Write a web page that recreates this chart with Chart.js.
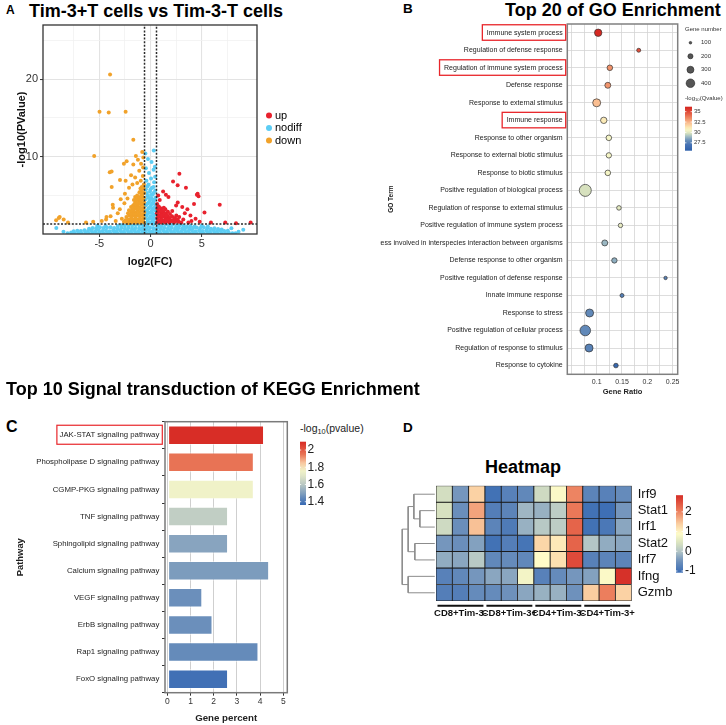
<!DOCTYPE html>
<html>
<head>
<meta charset="utf-8">
<script src="https://cdn.jsdelivr.net/npm/chart.js@4.4.1/dist/chart.umd.min.js"></script>
<style>
  body { margin: 0; background: #fff; }
  #page { position: relative; width: 726px; height: 725px; overflow: hidden; font-family: 'Liberation Sans', Arial, sans-serif; }
  canvas { position: absolute; }
  .txt { position: absolute; white-space: nowrap; line-height: 1; color: #000; }
  .b { font-weight: bold; }
  .txt sub { font-size: 0.7em; line-height: 0; vertical-align: -0.25em; }
</style>
</head>
<body>
<div id="page">
  <div class="txt b" style="left:6px;top:3.8px;font-size:12px">A</div>
  <div class="txt b" style="left:29px;top:1.5px;font-size:18px">Tim-3+T cells vs Tim-3-T cells</div>
  <canvas id="volcano" width="330" height="256" style="left:0;top:16px"></canvas>

  <div class="txt b" style="left:403px;top:1.9px;font-size:13.5px">B</div>
  <div class="txt b" style="left:505px;top:1.1px;font-size:18px">Top 20 of GO Enrichment</div>
  <canvas id="go" width="306" height="387" style="left:380px;top:15px"></canvas>
  <div class="txt" style="left:685px;top:25.9px;font-size:6px;color:#333">Gene number</div>
  <canvas id="goSize" width="46" height="72" style="left:680px;top:27px"></canvas>
  <div class="txt" style="left:685px;top:94.9px;font-size:6px;color:#333">-log<sub>10</sub>(Qvalue)</div>
  <canvas id="goBar" width="42" height="56" style="left:684px;top:101px"></canvas>

  <div class="txt b" style="left:6px;top:379.8px;font-size:18px">Top 10 Signal transduction of KEGG Enrichment</div>
  <div class="txt b" style="left:6px;top:419.2px;font-size:16px">C</div>
  <canvas id="kegg" width="292" height="315" style="left:0;top:410px"></canvas>
  <div class="txt" style="left:300px;top:422.6px;font-size:10.5px;color:#222">-log<sub>10</sub>(pvalue)</div>
  <canvas id="keggBar" width="40" height="81" style="left:299px;top:433px"></canvas>

  <div class="txt b" style="left:403px;top:421.3px;font-size:13.5px">D</div>
  <div class="txt b" style="left:485px;top:457.5px;font-size:18px">Heatmap</div>
  <canvas id="dendro" width="35" height="115" style="left:401px;top:486px"></canvas>
  <canvas id="heat" width="254" height="155" style="left:426px;top:470px"></canvas>
  <canvas id="heatBar" width="51" height="96" style="left:675px;top:486px"></canvas>
</div>

<script>
// ---------- A: volcano (log2 fold change, -log10 p) ----------
const volcanoUp = [
  [2.82,7.8],[2.2,6.8],[2.65,6.3],[3.46,6.0],[4.53,5.1],[4.69,4.9],[4.6,5.2],[1.23,5.5],[1.5,5.1],[1.75,4.8],[0.75,5.0],[0.9,4.4],
  [2.66,4.1],[2.5,3.7],[3.1,3.5],[3.6,3.2],[4.25,3.9],[6.76,3.8],[5.27,2.8],[3.9,2.4],[4.4,2.0],[3.35,2.7],[4.0,1.7],[4.8,1.6],
  [5.9,1.5],[7.3,1.5],[8.35,1.4],[9.78,1.5],[3.7,1.5],
  [0.64,1.5],[0.66,2.1],[0.63,2.7],[0.67,3.3],[0.65,3.9],[0.85,1.7],[0.83,2.3],[0.87,2.9],[0.84,3.5],
  [1.05,1.5],[1.03,2.1],[1.07,2.7],[1.04,3.3],[1.25,1.7],[1.27,2.3],[1.24,2.9],[1.3,3.4],
  [1.45,1.5],[1.47,2.1],[1.5,2.7],[1.45,3.2],[1.65,1.7],[1.68,2.3],[1.7,2.9],
  [1.85,1.5],[1.87,2.1],[1.9,2.6],[2.05,1.7],[2.1,2.3],[2.12,3.0],
  [2.3,1.5],[2.32,2.0],[2.5,1.7],[2.52,2.4],[2.75,1.6],[2.8,2.2],[3.0,1.5],[3.2,1.9],
  [0.75,1.8],[0.75,2.4],[0.76,3.0],[0.75,3.6],[0.95,1.8],[0.95,2.4],[0.96,3.0],[1.15,1.8],[1.15,2.4],[1.16,3.0],
  [1.35,1.8],[1.36,2.5],[1.55,1.8],[1.56,2.4],[1.75,1.9],[1.95,1.8],[2.2,1.8],[2.4,2.1],[2.65,1.9]
];
const volcanoDown = [
  [-3.95,20.6],[-4.98,15.8],[-4.08,15.7],[-2.43,15.8],[-1.68,12.2],[-5.5,10.1],[-1.43,10.1],[-0.81,10.6],[-0.7,9.9],
  [-2.33,9.4],[-2.6,9.1],[-1.68,9.0],[-1.23,9.6],[-0.92,9.1],[-0.72,8.6],[-3.98,8.0],[-3.8,8.1],[-1.1,8.2],
  [-2.98,7.0],[-2.43,6.9],[-1.9,7.6],[-1.5,7.3],[-0.75,7.5],[-0.95,6.9],[-1.3,6.6],[-3.79,6.1],[-1.76,6.4],[-2.1,6.0],
  [-2.91,4.5],[-2.5,5.2],[-3.69,3.8],[-3.66,3.4],[-3.2,2.7],[-3.9,2.3],[-3.4,1.7],[-2.8,2.0],[-3.0,3.2],[-2.55,4.0],[-2.25,4.6],
  [-4.34,1.9],[-4.76,1.7],[-4.3,2.2],[-5.6,1.6],[-6.3,1.5],
  [-8.87,2.2],[-8.48,1.9],[-8.06,1.5],[-9.22,1.78],[-8.96,2.1],
  [-0.64,1.5],[-0.66,2.1],[-0.63,2.8],[-0.67,3.4],[-0.64,4.1],[-0.66,4.7],[-0.63,5.3],[-0.68,5.9],[-0.65,6.4],
  [-0.85,1.7],[-0.83,2.4],[-0.87,3.1],[-0.84,3.8],[-0.86,4.4],[-0.83,5.0],[-0.88,5.6],[-0.85,6.1],
  [-1.05,1.5],[-1.03,2.2],[-1.07,2.8],[-1.04,3.5],[-1.06,4.2],[-1.03,4.8],[-1.08,5.4],
  [-1.25,1.7],[-1.27,2.4],[-1.24,3.1],[-1.28,3.7],[-1.25,4.4],[-1.3,5.0],
  [-1.45,1.5],[-1.47,2.2],[-1.44,2.8],[-1.48,3.5],[-1.46,4.1],[-1.5,4.8],
  [-1.65,1.7],[-1.67,2.4],[-1.64,3.0],[-1.7,3.7],[-1.62,4.4],
  [-1.85,1.5],[-1.88,2.2],[-1.84,2.9],[-1.9,3.5],[-2.05,1.7],[-2.08,2.4],[-2.1,3.1],
  [-2.3,1.5],[-2.35,2.2],[-2.6,1.6],[-2.15,1.45],
  [-0.75,1.8],[-0.75,2.5],[-0.75,3.2],[-0.75,3.9],[-0.75,4.6],[-0.75,5.3],[-0.76,6.0],
  [-0.95,1.9],[-0.95,2.6],[-0.95,3.3],[-0.95,4.0],[-0.96,4.7],[-0.97,5.3],[-0.98,5.9],
  [-1.15,1.9],[-1.15,2.6],[-1.16,3.3],[-1.15,4.0],[-1.17,4.6],
  [-1.35,1.9],[-1.36,2.6],[-1.35,3.3],[-1.37,4.0],[-1.38,4.5],
  [-1.55,1.9],[-1.56,2.6],[-1.55,3.3],[-1.57,3.9],[-1.75,1.9],[-1.76,2.6],[-1.78,3.2],
  [-1.95,1.9],[-1.97,2.6],[-2.2,1.9],[-2.2,2.7],[-2.45,1.8]
];
const volcanoNodiff = [
  // column between the fold-change cut-offs
  [-0.45,1.45],[0.0,1.5],[0.42,1.45],[-0.25,1.85],[0.2,1.9],[0.5,2.0],[-0.5,2.1],[0.0,2.3],[-0.35,2.55],[0.35,2.5],
  [0.05,2.85],[-0.5,2.95],[0.48,3.05],[-0.2,3.3],[0.25,3.35],[-0.45,3.7],[0.05,3.75],[0.45,3.8],[-0.15,4.15],[0.3,4.2],
  [-0.5,4.5],[0.1,4.6],[0.5,4.7],[-0.3,4.95],[0.2,5.1],[-0.05,5.5],[0.45,5.6],[-0.45,5.8],[0.15,6.0],[-0.2,6.4],
  [0.35,6.7],[-0.4,6.9],[0.05,7.2],[0.45,7.4],[-0.15,7.9],[0.3,8.3],[-0.45,8.5],[0.42,8.7],[0.1,9.3],[-0.25,9.7],
  [0.32,10.8],[-0.5,10.4],
  [-0.3,1.6],[0.25,1.65],[-0.1,2.05],[0.3,2.2],[-0.4,2.35],[-0.15,2.75],[0.2,2.7],[-0.35,3.05],[0.15,3.1],[0.4,3.4],
  [-0.05,3.5],[-0.3,3.95],[0.2,3.95],[-0.05,4.35],[0.35,4.45],[-0.2,4.7],[0.05,5.05],[-0.35,5.3],[0.3,5.3],[0.0,5.8],
  [0.3,6.1],[-0.3,6.2],
  // band under the p cut-off
  [-3.2,1.05],[-2.85,1.15],[-2.5,1.1],[-2.15,1.2],[-1.8,1.1],[-1.45,1.2],[-1.1,1.15],[-0.8,1.25],[-0.3,1.1],[0.25,1.2],
  [0.8,1.15],[1.1,1.05],[1.45,1.2],[1.8,1.1],[2.15,1.2],[2.5,1.05],[2.85,1.15],[3.2,1.1],[3.55,1.0],[3.9,1.05],[4.3,0.98],
  [-6.0,0.7],[-5.65,0.8],[-5.3,0.75],[-4.95,0.9],[-4.6,0.8],[-4.25,0.85],[-3.9,0.9],[-3.55,0.8],[-3.2,0.7],[-2.85,0.78],
  [-2.5,0.72],[-2.15,0.82],[-1.8,0.74],[-1.45,0.8],[-1.1,0.72],[-0.75,0.84],[-0.4,0.76],[-0.05,0.85],[0.3,0.75],[0.65,0.82],
  [1.0,0.72],[1.35,0.8],[1.7,0.74],[2.05,0.82],[2.4,0.72],[2.75,0.8],[3.1,0.74],[3.45,0.82],[3.8,0.72],[4.15,0.8],
  [4.5,0.86],[4.85,0.78],[5.2,0.88],[5.55,0.76],[5.9,0.7],[6.25,0.76],[6.6,0.68],[6.95,0.6],
  [-7.5,0.38],[-7.15,0.45],[-6.8,0.4],[-6.45,0.5],[-6.1,0.42],[-5.75,0.46],[-5.4,0.38],[-5.05,0.5],[-4.7,0.42],[-4.35,0.46],
  [-4.0,0.38],[-3.65,0.5],[-3.3,0.42],[-2.95,0.46],[-2.6,0.38],[-2.25,0.5],[-1.9,0.42],[-1.55,0.46],[-1.2,0.38],[-0.85,0.5],
  [-0.5,0.42],[-0.15,0.46],[0.2,0.38],[0.55,0.5],[0.9,0.42],[1.25,0.46],[1.6,0.38],[1.95,0.5],[2.3,0.42],[2.65,0.46],
  [3.0,0.38],[3.35,0.5],[3.7,0.42],[4.05,0.46],[4.4,0.38],[4.75,0.5],[5.1,0.42],[5.45,0.46],[5.8,0.38],[6.15,0.5],
  [6.5,0.42],[6.85,0.46],[7.2,0.4],[7.55,0.44],
  [-8.1,0.12],[-7.75,0.2],[-7.4,0.08],[-7.05,0.16],[-6.7,0.1],[-6.35,0.18],[-6.0,0.08],[-5.65,0.15],[-5.3,0.1],[-4.95,0.18],
  [-4.6,0.08],[-4.25,0.15],[-3.9,0.1],[-3.55,0.18],[-3.2,0.08],[-2.85,0.15],[-2.5,0.1],[-2.15,0.18],[-1.8,0.08],[-1.45,0.15],
  [-1.1,0.1],[-0.75,0.18],[-0.4,0.08],[-0.05,0.15],[0.3,0.1],[0.65,0.18],[1.0,0.08],[1.35,0.15],[1.7,0.1],[2.05,0.18],
  [2.4,0.08],[2.75,0.15],[3.1,0.1],[3.45,0.18],[3.8,0.08],[4.15,0.15],[4.5,0.1],[4.85,0.18],[5.2,0.08],[5.55,0.15],
  [5.9,0.1],[6.25,0.18],[6.6,0.08],[6.95,0.15],[7.3,0.1],[7.65,0.18],[8.0,0.12],
  [-9.2,0.8],[-8.5,0.3],[-5.2,1.1],[-4.4,1.05],[5.0,1.1],[5.6,1.0],[8.3,0.12],[9.06,0.56],[7.9,0.75],[8.6,0.3]
];
const fcCut = 0.585;
const pCut = 1.3;
const fcTicks = [-7.5, -5, -2.5, 0, 2.5, 5, 7.5];
const fcLabels = ['', '-5', '', '0', '', '5', ''];
const pTicks = [5, 10, 15, 20, 25];
const pLabels = ['', '10', '', '20', ''];

// ---------- B: GO enrichment ----------
const goTerms = [
  'Immune system process', 'Regulation of defense response', 'Regulation of immune system process',
  'Defense response', 'Response to external stimulus', 'Immune response', 'Response to other organism',
  'Response to external biotic stimulus', 'Response to biotic stimulus', 'Positive regulation of biological process',
  'Regulation of response to external stimulus', 'Positive regulation of immune system process',
  'Biological process involved in interspecies interaction between organisms', 'Defense response to other organism',
  'Positive regulation of defense response', 'Innate immune response', 'Response to stress',
  'Positive regulation of cellular process', 'Regulation of response to stimulus', 'Response to cytokine'
];
const goRatio = [0.103, 0.183, 0.126, 0.122, 0.100, 0.114, 0.124, 0.124, 0.122, 0.0775,
                 0.144, 0.147, 0.116, 0.135, 0.236, 0.150, 0.086, 0.0775, 0.085, 0.138];
const goCount = [324, 152, 225, 245, 361, 267, 225, 215, 225, 660, 178, 170, 245, 215, 128, 152, 361, 544, 361, 178];
const goQvalue = [36.0, 34.8, 33.3, 33.2, 32.3, 31.1, 30.5, 30.5, 30.5, 29.8,
                  30.1, 30.2, 28.9, 28.7, 27.6, 27.5, 27.9, 27.9, 27.6, 26.2];
const goBoxed = ['Immune system process', 'Regulation of immune system process', 'Immune response'];
const ratioTicks = [0.05, 0.075, 0.1, 0.125, 0.15, 0.175, 0.2, 0.225, 0.25];
const ratioLabels = ['', '', '0.1', '', '0.15', '', '0.2', '', '0.25'];
const sizeLegend = [100, 200, 300, 400];
const qTicks = [27.5, 30, 32.5, 35];

// ---------- C: KEGG signal transduction ----------
const keggPathways = [
  'JAK-STAT signaling pathway', 'Phospholipase D signaling pathway', 'CGMP-PKG signaling pathway',
  'TNF signaling pathway', 'Sphingolipid signaling pathway', 'Calcium signaling pathway',
  'VEGF signaling pathway', 'ErbB signaling pathway', 'Rap1 signaling pathway', 'FoxO signaling pathway'
];
const keggPercent = [4.18, 3.74, 3.74, 2.63, 2.63, 4.40, 1.52, 1.96, 3.94, 2.63];
const keggLogP = [2.09, 1.95, 1.76, 1.62, 1.51, 1.49, 1.46, 1.46, 1.45, 1.38];
const keggBoxed = ['JAK-STAT signaling pathway'];
const percentTicks = [0, 1, 2, 3, 4, 5];
const pvTicks = [1.4, 1.6, 1.8, 2.0];
const pvLabels = ['1.4', '1.6', '1.8', '2'];

// ---------- D: heatmap ----------
const heatGenes = ['Irf9', 'Stat1', 'Irf1', 'Stat2', 'Irf7', 'Ifng', 'Gzmb'];
const heatGroups = ['CD8+Tim-3-', 'CD8+Tim-3+', 'CD4+Tim-3-', 'CD4+Tim-3+'];
const heatSamples = ['CD8-_1', 'CD8-_2', 'CD8-_3', 'CD8+_1', 'CD8+_2', 'CD8+_3',
                     'CD4-_1', 'CD4-_2', 'CD4-_3', 'CD4+_1', 'CD4+_2', 'CD4+_3'];
const heatValues = [
  [0.35, -0.45, 1.35, -1.0, -0.75, -0.65, 0.3, 0.85, 2.0, -0.7, -0.75, -0.6],
  [0.4, -0.55, 1.75, -0.8, -0.7, -0.15, -0.2, 0.1, 2.1, -1.0, -1.05, -0.45],
  [0.3, -0.55, 1.5, -0.7, -0.85, -0.2, 0.05, 0.1, 2.3, -1.0, -0.9, -0.3],
  [-0.45, -0.55, -0.35, -1.0, -0.8, -0.95, 1.3, 1.1, 2.3, 0.0, -0.25, -0.3],
  [-0.25, -0.3, 0.05, -0.65, -0.6, -0.65, 0.9, 1.2, 2.55, -0.75, -0.7, -0.7],
  [-0.75, -0.65, -0.45, -0.3, -0.3, 0.75, -0.75, -0.6, -0.45, -0.35, 0.85, 2.8],
  [-0.8, -0.8, -0.6, -0.6, -0.5, -0.3, -0.2, -0.2, -0.5, 1.4, 2.05, 1.35]
];
// row clustering: [child, child, height]; a number refers to an earlier merge
const heatTree = [['Stat1', 'Irf1', 1.83], ['Irf9', 0, 2.57], ['Stat2', 'Irf7', 2.45],
                  [1, 2, 3.27], ['Ifng', 'Gzmb', 3.27], [3, 4, 4.0]];
const heatTicks = [-1, 0, 1, 2];

// ---------- palettes ----------
const goStops = [[25.6, [45, 95, 170]], [27.0, [70, 115, 180]], [28.0, [100, 140, 185]], [29.0, [160, 188, 195]],
                 [29.8, [215, 225, 190]], [30.5, [245, 245, 198]], [31.2, [252, 232, 180]], [32.3, [250, 190, 145]],
                 [33.3, [240, 145, 105]], [34.8, [225, 80, 60]], [36.2, [212, 35, 30]]];
const keggStops = [[1.36, [55, 105, 180]], [1.44, [95, 135, 185]], [1.5, [130, 160, 190]], [1.6, [185, 200, 195]],
                   [1.7, [225, 230, 200]], [1.76, [240, 242, 200]], [1.85, [248, 200, 160]], [1.95, [232, 115, 85]],
                   [2.1, [215, 40, 35]]];
const heatStops = [[-1.09, [58, 108, 180]], [-0.5, [110, 145, 188]], [0, [180, 198, 198]], [0.4, [215, 225, 192]],
                   [0.9, [255, 252, 200]], [1.4, [250, 205, 160]], [2.1, [235, 120, 88]], [2.84, [213, 45, 38]]];

const FONT = "'Liberation Sans', Arial, sans-serif";
Chart.defaults.font.family = FONT;
Chart.defaults.color = '#333';

function rampColor(stops, v) {
  if (v <= stops[0][0]) return 'rgb(' + stops[0][1].join(',') + ')';
  for (let i = 1; i < stops.length; i++) {
    if (v <= stops[i][0]) {
      const [v0, c0] = stops[i - 1], [v1, c1] = stops[i];
      const t = (v - v0) / (v1 - v0);
      return 'rgb(' + c0.map((c, k) => Math.round(c + (c1[k] - c) * t)).join(',') + ')';
    }
  }
  return 'rgb(' + stops[stops.length - 1][1].join(',') + ')';
}

const fixedTicks = list => scale => { scale.ticks = list.map(v => ({ value: v })); };
const geneRadius = n => 0.3 * Math.sqrt(n) - 1.7;
const noGrid = { display: false, drawTicks: false };

const framePlugin = {
  id: 'frame',
  afterDatasetsDraw(chart, args, opts) {
    const a = chart.chartArea, ctx = chart.ctx;
    ctx.save();
    ctx.strokeStyle = opts.color;
    ctx.lineWidth = opts.width;
    ctx.strokeRect(a.left, a.top, a.right - a.left, a.bottom - a.top);
    ctx.restore();
  }
};

// red boxes round some y tick labels
const labelBoxes = {
  id: 'labelBoxes',
  afterDraw(chart, args, o) {
    const ctx = chart.ctx, ys = chart.scales.y, left = chart.chartArea.left;
    ctx.save();
    ctx.font = o.font;
    ctx.strokeStyle = '#e8262b';
    ctx.lineWidth = o.width;
    o.labels.forEach(label => {
      const py = ys.getPixelForValue(o.all.indexOf(label));
      const x0 = left - o.textGap - ctx.measureText(label).width - o.padLeft;
      ctx.strokeRect(x0, py - o.up, left - o.gapRight - x0, o.up + o.down);
    });
    ctx.restore();
  }
};

const volcanoLegend = {
  id: 'volcanoLegend',
  afterDraw(chart) {
    const ctx = chart.ctx, a = chart.chartArea;
    const groups = chart.data.datasets.filter(d => d.legendIndex !== undefined)
      .sort((p, q) => p.legendIndex - q.legendIndex);
    ctx.save();
    ctx.font = '11px ' + FONT;
    ctx.textBaseline = 'middle';
    groups.forEach((d, i) => {
      const y = (a.top + a.bottom) / 2 - 14 + i * 12.5;
      ctx.fillStyle = d.backgroundColor;
      ctx.beginPath();
      ctx.arc(a.right + 12, y, 3, 0, Math.PI * 2);
      ctx.fill();
      ctx.fillStyle = '#000';
      ctx.fillText(d.label, a.right + 18, y);
    });
    ctx.restore();
  }
};

function ggGrid(labels) {
  return {
    color: c => labels[c.index] ? '#e3e3e3' : '#f1f1f1',
    lineWidth: c => labels[c.index] ? 1.1 : 0.8,
    tickLength: 3,
    tickWidth: 1,
    tickColor: c => labels[c.index] ? '#333' : 'rgba(0,0,0,0)'
  };
}

const toXY = p => ({ x: p[0], y: p[1] });
const fcMin = -10.5, fcMax = 10.4, pMin = 0.02, pMax = 27;
const cutLine = pts => ({
  data: pts, showLine: true, borderColor: '#2a2a2a', borderWidth: 1.5, borderDash: [2, 1.6],
  pointRadius: 0, order: 0
});

new Chart(document.getElementById('volcano'), {
  type: 'scatter',
  data: {
    datasets: [
      { label: 'up', legendIndex: 0, data: volcanoUp.map(toXY), backgroundColor: '#e8222e', pointRadius: 2, borderWidth: 0, order: 1 },
      { label: 'nodiff', legendIndex: 1, data: volcanoNodiff.map(toXY), backgroundColor: '#5ccdf4', pointRadius: 2, borderWidth: 0, order: 3 },
      { label: 'down', legendIndex: 2, data: volcanoDown.map(toXY), backgroundColor: '#f1a22a', pointRadius: 2, borderWidth: 0, order: 2 },
      cutLine([{ x: -fcCut, y: pMin }, { x: -fcCut, y: pMax }]),
      cutLine([{ x: fcCut, y: pMin }, { x: fcCut, y: pMax }]),
      cutLine([{ x: fcMin, y: pCut }, { x: fcMax, y: pCut }])
    ]
  },
  options: {
    responsive: false, animation: false, events: [],
    layout: { padding: { top: 9, right: 73, bottom: 0, left: 0 } },
    plugins: { legend: { display: false }, tooltip: { enabled: false }, frame: { color: '#333', width: 1.3 } },
    scales: {
      x: {
        type: 'linear', min: fcMin, max: fcMax,
        afterBuildTicks: fixedTicks(fcTicks), afterFit: s => { s.height = 38; },
        ticks: { callback: (v, i) => fcLabels[i], color: '#333', font: { size: 11 }, padding: 0, maxRotation: 0, autoSkip: false },
        grid: ggGrid(fcLabels), border: { display: false },
        title: { display: true, text: 'log2(FC)', color: '#111', font: { size: 11, weight: 'bold' }, padding: { top: 0, bottom: 3.9 } }
      },
      y: {
        min: pMin, max: pMax,
        afterBuildTicks: fixedTicks(pTicks), afterFit: s => { s.width = 43; },
        ticks: { callback: (v, i) => pLabels[i], color: '#333', font: { size: 11 }, padding: 2, autoSkip: false },
        grid: ggGrid(pLabels), border: { display: false },
        title: { display: true, text: '-log10(PValue)', color: '#111', font: { size: 11, weight: 'bold' }, padding: { top: 15.4, bottom: 0 } }
      }
    }
  },
  plugins: [framePlugin, volcanoLegend]
});

// ---------- B ----------
const dotGrid = { color: '#d4d4d4', borderDash: [2, 2], dash: [2, 2], drawTicks: false, lineWidth: 0.8 };
new Chart(document.getElementById('go'), {
  type: 'bubble',
  data: {
    datasets: [{
      data: goTerms.map((t, i) => ({ x: goRatio[i], y: i, r: geneRadius(goCount[i]) })),
      backgroundColor: goQvalue.map(q => rampColor(goStops, q)),
      borderColor: '#333', borderWidth: 0.7
    }]
  },
  options: {
    responsive: false, animation: false, events: [],
    layout: { padding: { top: 9, right: 8.3, bottom: 0, left: 0 } },
    plugins: {
      legend: { display: false }, tooltip: { enabled: false },
      frame: { color: '#808080', width: 1.5 },
      labelBoxes: { labels: goBoxed, all: goTerms, font: '7px ' + FONT, textGap: 4.6, padLeft: 4.5, gapRight: 1.6, up: 8, down: 7.5, width: 1.3 }
    },
    scales: {
      x: {
        min: 0.042, max: 0.26,
        afterBuildTicks: fixedTicks(ratioTicks), afterFit: s => { s.height = 27.7; },
        ticks: { callback: (v, i) => ratioLabels[i], color: '#333', font: { size: 7 }, padding: 3.2, maxRotation: 0, autoSkip: false },
        grid: dotGrid, border: { display: false },
        title: { display: true, text: 'Gene Ratio', color: '#222', font: { size: 7.5, weight: 'bold' }, padding: { top: 0, bottom: 5.8 } }
      },
      y: {
        reverse: true, min: -0.5, max: 19.5,
        afterBuildTicks: fixedTicks(goTerms.map((t, i) => i)), afterFit: s => { s.width = 187.3; },
        ticks: { callback: (v, i) => goTerms[i], color: '#222', font: { size: 7 }, padding: 4.6, autoSkip: false },
        grid: dotGrid, border: { display: false },
        title: { display: true, text: 'GO Term', color: '#222', font: { size: 6.5, weight: 'bold' }, padding: { top: 7, bottom: 0 } }
      }
    }
  },
  plugins: [framePlugin, labelBoxes]
});

// size legend of B
new Chart(document.getElementById('goSize'), {
  type: 'bubble',
  data: {
    datasets: [{
      data: sizeLegend.map((n, i) => ({ x: 0, y: i, r: geneRadius(n) })),
      backgroundColor: '#555', borderColor: '#222', borderWidth: 0.6
    }]
  },
  options: {
    responsive: false, animation: false, events: [],
    layout: { padding: { top: 9, right: 0, bottom: 9, left: 3 } },
    plugins: { legend: { display: false }, tooltip: { enabled: false } },
    scales: {
      x: { display: false, min: -1, max: 1 },
      y: {
        position: 'right', reverse: true, min: -0.5, max: 3.5,
        afterBuildTicks: fixedTicks(sizeLegend.map((n, i) => i)), afterFit: s => { s.width = 30; },
        ticks: { callback: (v, i) => String(sizeLegend[i]), color: '#333', font: { size: 6 }, padding: 5 },
        grid: noGrid, border: { display: false }
      }
    }
  }
});

// colour bars
function colorbar(id, o) {
  const canvas = document.getElementById(id);
  return new Chart(canvas, {
    type: 'scatter',
    data: { datasets: [] },
    options: {
      responsive: false, animation: false, events: [],
      layout: { padding: { top: o.padTop, bottom: o.padBottom, left: o.padLeft, right: 0 } },
      plugins: { legend: { display: false }, tooltip: { enabled: false } },
      scales: {
        x: { display: false, min: 0, max: 1 },
        y: {
          position: 'right', min: o.min, max: o.max,
          afterBuildTicks: fixedTicks(o.ticks),
          afterFit: s => { s.width = canvas.width - o.padLeft - o.barWidth; },
          ticks: { callback: (v, i) => o.labels[i], color: o.color, font: { size: o.fontSize }, padding: o.gap },
          grid: noGrid, border: { display: false }
        }
      }
    },
    plugins: [{
      id: 'gradient',
      beforeDatasetsDraw(chart) {
        const { ctx, chartArea: a, scales: { y } } = chart;
        const g = ctx.createLinearGradient(0, a.bottom, 0, a.top);
        for (let k = 0; k <= 30; k++) {
          g.addColorStop(k / 30, rampColor(o.stops, o.min + (o.max - o.min) * k / 30));
        }
        ctx.save();
        ctx.fillStyle = g;
        ctx.fillRect(a.left, a.top, a.right - a.left, a.bottom - a.top);
        ctx.strokeStyle = '#fff';
        ctx.lineWidth = 0.8;
        const w = (a.right - a.left) / 5;
        o.ticks.forEach(v => {
          const py = y.getPixelForValue(v);
          ctx.beginPath();
          ctx.moveTo(a.left, py); ctx.lineTo(a.left + w, py);
          ctx.moveTo(a.right - w, py); ctx.lineTo(a.right, py);
          ctx.stroke();
        });
        ctx.restore();
      }
    }]
  });
}

colorbar('goBar', { min: 25.6, max: 36.2, ticks: qTicks, labels: qTicks.map(String), stops: goStops,
  padTop: 5.7, padBottom: 6.3, padLeft: 1, barWidth: 7, fontSize: 6, gap: 2, color: '#333' });

// ---------- C ----------
new Chart(document.getElementById('kegg'), {
  type: 'bar',
  data: {
    labels: keggPathways,
    datasets: [{
      data: keggPercent,
      backgroundColor: keggLogP.map(p => rampColor(keggStops, p)),
      borderColor: 'rgba(255,255,255,0.45)', borderWidth: 1.3, borderSkipped: false,
      barPercentage: 0.74, categoryPercentage: 1
    }]
  },
  options: {
    indexAxis: 'y', responsive: false, animation: false, events: [],
    layout: { padding: { top: 11.7, right: 4.7, bottom: 0, left: 0 } },
    plugins: {
      legend: { display: false }, tooltip: { enabled: false },
      frame: { color: '#7a7a7a', width: 1.5 },
      labelBoxes: { labels: keggBoxed, all: keggPathways, font: '7.8px ' + FONT, textGap: 5.7, padLeft: 2.6, gapRight: 2.7, up: 10, down: 9, width: 1.2 }
    },
    scales: {
      x: {
        min: -0.1, max: 5.17,
        afterBuildTicks: fixedTicks(percentTicks), afterFit: s => { s.height = 32.3; },
        ticks: { color: '#333', font: { size: 8.5 }, padding: 1, maxRotation: 0 },
        grid: { color: '#cfcfcf', borderDash: [3, 3], dash: [3, 3], tickLength: 3, tickColor: '#333', tickBorderDash: [] },
        border: { display: false },
        title: { display: true, text: 'Gene percent', color: '#222', font: { size: 9.7, weight: 'bold' }, padding: { top: 0, bottom: 0.7 } }
      },
      y: {
        afterFit: s => { s.width = 165; },
        ticks: { color: '#222', font: { size: 7.8 }, padding: 2.7, autoSkip: false },
        grid: { drawOnChartArea: false, tickLength: 3, color: '#333' },
        border: { display: false },
        title: { display: true, text: 'Pathway', color: '#222', font: { size: 9.4, weight: 'bold' }, padding: { top: 15, bottom: 0 } }
      }
    }
  },
  plugins: [framePlugin, labelBoxes]
});

colorbar('keggBar', { min: 1.362, max: 2.097, ticks: pvTicks, labels: pvLabels, stops: keggStops,
  padTop: 8.7, padBottom: 9, padLeft: 1, barWidth: 6, fontSize: 12, gap: 1.5, color: '#222' });

// ---------- D ----------
const groupLines = {
  id: 'groupLines',
  afterDraw(chart) {
    const ctx = chart.ctx, a = chart.chartArea;
    const per = heatSamples.length / heatGroups.length;
    const colW = (a.right - a.left) / heatSamples.length;
    ctx.save();
    ctx.strokeStyle = '#111';
    ctx.lineWidth = 2;
    heatGroups.forEach((g, k) => {
      ctx.beginPath();
      ctx.moveTo(a.left + k * per * colW + 1.5, a.bottom + 4.7);
      ctx.lineTo(a.left + (k + 1) * per * colW - 1.5, a.bottom + 4.7);
      ctx.stroke();
    });
    ctx.restore();
  }
};

new Chart(document.getElementById('heat'), {
  type: 'bar',
  data: {
    labels: heatSamples,
    datasets: heatGenes.map((g, r) => ({
      label: g,
      data: heatSamples.map(() => [r, r + 1]),
      backgroundColor: heatValues[r].map(v => rampColor(heatStops, v)),
      borderColor: '#1a1a1a', borderWidth: 0.8, borderSkipped: false,
      barPercentage: 1, categoryPercentage: 1, grouped: false
    }))
  },
  options: {
    responsive: false, animation: false, events: [],
    layout: { padding: { top: 15.7, right: 0, bottom: 0, left: 10 } },
    plugins: { legend: { display: false }, tooltip: { enabled: false } },
    scales: {
      x: { display: false, offset: true },
      xg: {
        type: 'category', labels: heatGroups, position: 'bottom', offset: true,
        afterFit: s => { s.height = 24; },
        ticks: { color: '#111', font: { size: 9.5, weight: 'bold' }, padding: 6.3, maxRotation: 0, minRotation: 0, autoSkip: false },
        grid: noGrid, border: { display: false }
      },
      y: {
        position: 'right', reverse: true, min: 0, max: heatGenes.length,
        afterBuildTicks: fixedTicks(heatGenes.map((g, i) => i + 0.5)), afterFit: s => { s.width = 48.3; },
        ticks: { callback: (v, i) => heatGenes[i], color: '#111', font: { size: 13 }, padding: 6 },
        grid: noGrid, border: { display: false }
      }
    }
  },
  plugins: [groupLines]
});

// dendrogram built from the merge table
const dendroSets = [];
const nodes = {};
heatGenes.forEach((g, i) => { nodes[g] = { h: 0, y: i + 0.5 }; });
heatTree.forEach(([a, b, h], k) => {
  const A = nodes[a], B = nodes[b];
  dendroSets.push({
    data: [{ x: A.h, y: A.y }, { x: h, y: A.y }, { x: h, y: B.y }, { x: B.h, y: B.y }],
    showLine: true, borderColor: '#8c8c8c', borderWidth: 1, pointRadius: 0, clip: false
  });
  nodes[k] = { h: h, y: (A.y + B.y) / 2 };
});

new Chart(document.getElementById('dendro'), {
  type: 'scatter',
  data: { datasets: dendroSets },
  options: {
    responsive: false, animation: false, events: [],
    plugins: { legend: { display: false }, tooltip: { enabled: false } },
    scales: {
      x: { display: false, reverse: true, min: -0.15, max: 4.15 },
      y: { display: false, reverse: true, min: 0, max: heatGenes.length }
    }
  }
});

colorbar('heatBar', { min: -1.086, max: 2.845, ticks: heatTicks, labels: heatTicks.map(String), stops: heatStops,
  padTop: 9, padBottom: 9.3, padLeft: 1, barWidth: 7, fontSize: 12, gap: 2, color: '#111' });
</script>
</body>
</html>
